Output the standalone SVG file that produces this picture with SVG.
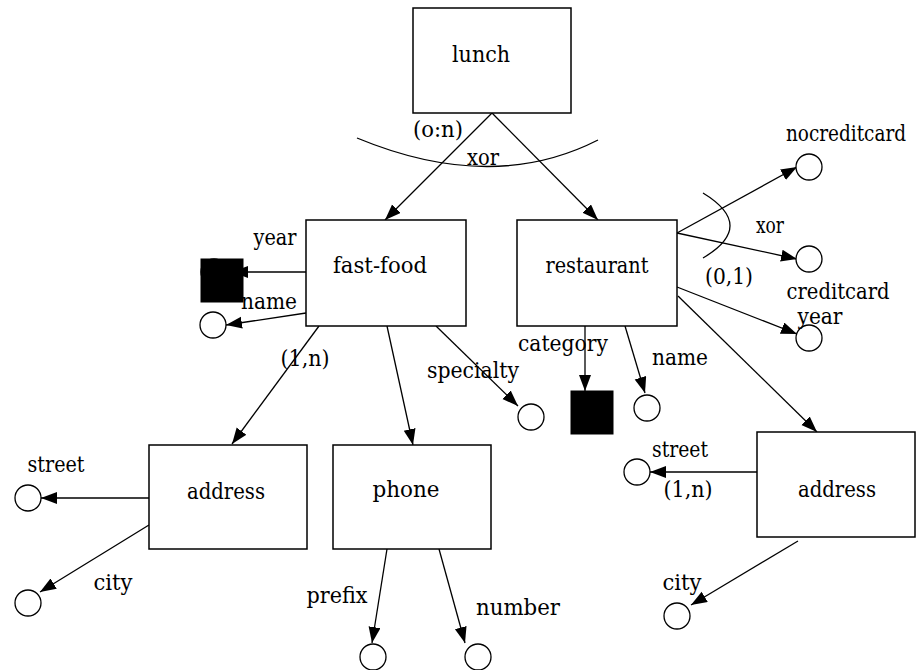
<svg xmlns="http://www.w3.org/2000/svg" width="917" height="670" viewBox="0 0 917 670">
  <style>
    .box { fill: #fff; stroke: #000; stroke-width: 1.5; }
    .attr { fill: #fff; stroke: #000; stroke-width: 1.3; }
    .key { fill: #000; stroke: #000; stroke-width: 1; }
    .edge { fill: none; stroke: #000; stroke-width: 1.3; marker-end: url(#arrow); }
    .arc { fill: none; stroke: #000; stroke-width: 1.3; }
    text { font-family: 'DejaVu Serif', serif; font-size: 22px; fill: #000; text-anchor: middle; }
  </style>
  <defs>
    <marker id="arrow" markerUnits="userSpaceOnUse" markerWidth="17" markerHeight="13" refX="16" refY="6" orient="auto">
      <path d="M0,0 L16,6 L0,12 z" fill="#000"/>
    </marker>
  </defs>

  <rect width="917" height="670" fill="#fff"/>

  <!-- connectors -->
  <g id="connectors">
    <!-- lunch specialisations -->
    <line class="edge" x1="492" y1="113" x2="385" y2="220"/>
    <line class="edge" x1="492" y1="113" x2="598" y2="220"/>
    <path class="arc" d="M357,138 Q492,194 598,140"/>

    <!-- fast-food attributes -->
    <line class="edge" x1="306" y1="272" x2="232" y2="272"/>
    <line class="edge" x1="306" y1="313" x2="226" y2="325"/>
    <line class="edge" x1="319" y1="326" x2="232" y2="444"/>
    <line class="edge" x1="387" y1="326" x2="413" y2="445"/>
    <line class="edge" x1="436" y1="326" x2="518" y2="406"/>

    <!-- restaurant attributes -->
    <line class="edge" x1="585" y1="326" x2="585" y2="391"/>
    <line class="edge" x1="625" y1="326" x2="645" y2="393"/>
    <line class="edge" x1="677" y1="233" x2="797" y2="167"/>
    <line class="edge" x1="677" y1="233" x2="797" y2="259"/>
    <path class="arc" d="M703,193 Q757,226 703,258"/>
    <line class="edge" x1="677" y1="287" x2="797" y2="334"/>
    <line class="edge" x1="678" y1="296" x2="817" y2="432"/>

    <!-- left address attributes -->
    <line class="edge" x1="149" y1="498" x2="41" y2="498"/>
    <line class="edge" x1="149" y1="525" x2="40" y2="592"/>

    <!-- phone attributes -->
    <line class="edge" x1="387" y1="549" x2="372" y2="643"/>
    <line class="edge" x1="439" y1="549" x2="465" y2="643"/>

    <!-- right address attributes -->
    <line class="edge" x1="757" y1="472" x2="650" y2="472"/>
    <line class="edge" x1="798" y1="541" x2="691" y2="605"/>
  </g>

  <!-- entities -->
  <g id="lunch">
    <rect class="box" x="413" y="8" width="158" height="105"/>
    <text x="481" y="62" textLength="58" lengthAdjust="spacingAndGlyphs">lunch</text>
  </g>
  <g id="fast-food">
    <rect class="box" x="306" y="220" width="160" height="106"/>
    <text x="380" y="273" textLength="94" lengthAdjust="spacingAndGlyphs">fast-food</text>
  </g>
  <g id="restaurant">
    <rect class="box" x="517" y="220" width="160" height="106"/>
    <text x="597" y="273" textLength="103" lengthAdjust="spacingAndGlyphs">restaurant</text>
  </g>
  <g id="address-left">
    <rect class="box" x="149" y="445" width="158" height="104"/>
    <text x="226" y="499" textLength="78" lengthAdjust="spacingAndGlyphs">address</text>
  </g>
  <g id="phone">
    <rect class="box" x="333" y="445" width="158" height="104"/>
    <text x="406" y="497" textLength="67" lengthAdjust="spacingAndGlyphs">phone</text>
  </g>
  <g id="address-right">
    <rect class="box" x="757" y="432" width="158" height="105"/>
    <text x="837" y="497" textLength="78" lengthAdjust="spacingAndGlyphs">address</text>
  </g>

  <!-- attributes -->
  <g id="ff-year">
    <circle class="attr" cx="214" cy="272" r="13"/>
    <rect class="key" x="201" y="259" width="42" height="43"/>
  </g>
  <g id="ff-name">
    <circle class="attr" cx="213" cy="325" r="13"/>
  </g>
  <g id="ff-specialty">
    <circle class="attr" cx="531" cy="417" r="13"/>
  </g>
  <g id="rest-category">
    <rect class="key" x="571" y="391" width="42" height="43"/>
  </g>
  <g id="rest-name">
    <circle class="attr" cx="647" cy="408" r="13"/>
  </g>
  <g id="rest-nocreditcard">
    <circle class="attr" cx="809" cy="167" r="13"/>
  </g>
  <g id="rest-creditcard">
    <circle class="attr" cx="809" cy="259" r="13"/>
  </g>
  <g id="rest-year">
    <circle class="attr" cx="809" cy="338" r="13"/>
  </g>
  <g id="addrL-street">
    <circle class="attr" cx="28" cy="498" r="13"/>
  </g>
  <g id="addrL-city">
    <circle class="attr" cx="28" cy="603" r="13"/>
  </g>
  <g id="phone-prefix">
    <circle class="attr" cx="373" cy="657" r="13"/>
  </g>
  <g id="phone-number">
    <circle class="attr" cx="478" cy="657" r="13"/>
  </g>
  <g id="addrR-street">
    <circle class="attr" cx="637" cy="472" r="13"/>
  </g>
  <g id="addrR-city">
    <circle class="attr" cx="677" cy="616" r="13"/>
  </g>

  <!-- labels -->
  <g id="labels">
    <text x="438" y="137" textLength="50" lengthAdjust="spacingAndGlyphs">(o:n)</text>
    <text x="483" y="165" textLength="32" lengthAdjust="spacingAndGlyphs">xor</text>
    <text x="275" y="245" textLength="43" lengthAdjust="spacingAndGlyphs">year</text>
    <text x="269" y="309" textLength="56" lengthAdjust="spacingAndGlyphs">name</text>
    <text x="305" y="366" textLength="49" lengthAdjust="spacingAndGlyphs">(1,n)</text>
    <text x="473" y="378" textLength="92" lengthAdjust="spacingAndGlyphs">specialty</text>
    <text x="563" y="351" textLength="90" lengthAdjust="spacingAndGlyphs">category</text>
    <text x="680" y="365" textLength="56" lengthAdjust="spacingAndGlyphs">name</text>
    <text x="846" y="141" font-size="19" textLength="120" lengthAdjust="spacingAndGlyphs">nocreditcard</text>
    <text x="770" y="233" textLength="28" lengthAdjust="spacingAndGlyphs">xor</text>
    <text x="729" y="284" textLength="48" lengthAdjust="spacingAndGlyphs">(0,1)</text>
    <text x="838" y="299" textLength="103" lengthAdjust="spacingAndGlyphs">creditcard</text>
    <text x="820" y="324" textLength="45" lengthAdjust="spacingAndGlyphs">year</text>
    <text x="56" y="472" textLength="57" lengthAdjust="spacingAndGlyphs">street</text>
    <text x="113" y="590" textLength="39" lengthAdjust="spacingAndGlyphs">city</text>
    <text x="337" y="603" textLength="61" lengthAdjust="spacingAndGlyphs">prefix</text>
    <text x="518" y="615" textLength="84" lengthAdjust="spacingAndGlyphs">number</text>
    <text x="680" y="457" textLength="56" lengthAdjust="spacingAndGlyphs">street</text>
    <text x="688" y="497" textLength="49" lengthAdjust="spacingAndGlyphs">(1,n)</text>
    <text x="682" y="590" textLength="39" lengthAdjust="spacingAndGlyphs">city</text>
  </g>
</svg>
